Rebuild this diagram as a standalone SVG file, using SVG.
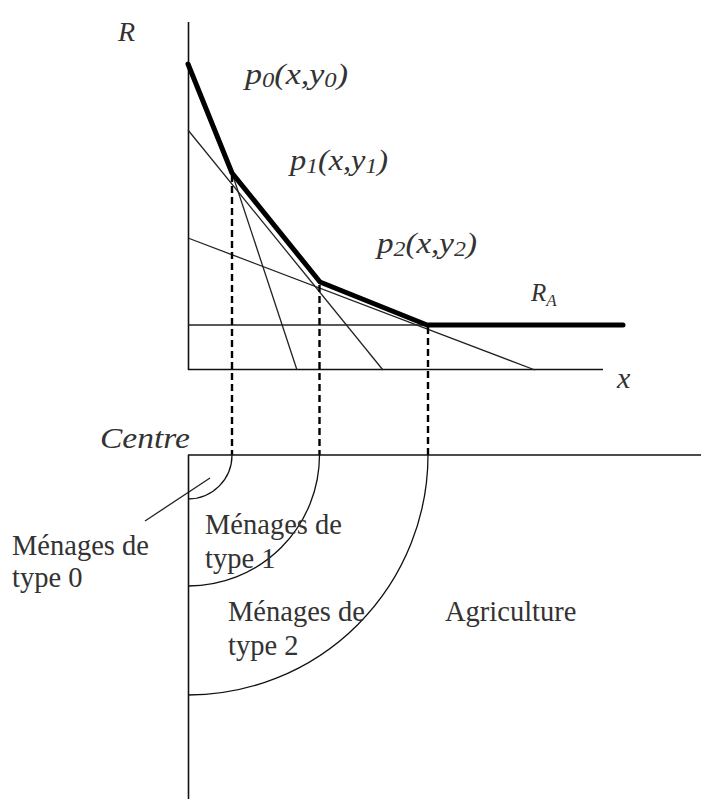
<svg xmlns="http://www.w3.org/2000/svg" width="701" height="799" viewBox="0 0 701 799">
<style>
.axis{stroke:#111;stroke-width:1.6;fill:none}
.thin{stroke:#222;stroke-width:1.3;fill:none}
.thick{stroke:#000;stroke-width:5;fill:none;stroke-linejoin:round;stroke-linecap:round}
.dash{stroke:#000;stroke-width:2.4;stroke-dasharray:7 4;fill:none}
.arc{stroke:#111;stroke-width:1.3;fill:none}
.it{font-family:"Liberation Serif",serif;font-style:italic;fill:#333}
.rm{font-family:"Liberation Serif",serif;fill:#333;font-size:28.5px}
.sub{font-size:21px}
</style>
<rect width="701" height="799" fill="#fff"/>
<g id="axes-top">
<line class="axis" x1="188.5" y1="22" x2="188.5" y2="370"/>
<line class="axis" x1="188" y1="369.5" x2="603" y2="369.5"/>
</g>
<g id="rent-lines">
<line class="thin" x1="232" y1="173" x2="297" y2="370"/>
<line class="thin" x1="188" y1="130" x2="383" y2="370"/>
<line class="thin" x1="188" y1="238" x2="535" y2="370"/>
<line class="thin" x1="188" y1="325" x2="428" y2="325"/>
<polyline class="thick" points="188,64 232,173 320,282 427,325 623,325"/>
</g>
<g id="connectors">
<line class="dash" x1="232" y1="175" x2="232" y2="455"/>
<line class="dash" x1="319.5" y1="285" x2="319.5" y2="455"/>
<line class="dash" x1="428" y1="327" x2="428" y2="455"/>
<line class="thin" x1="145" y1="521" x2="210" y2="478"/>
</g>
<g id="axes-bottom">
<line class="axis" x1="188" y1="455" x2="701" y2="455"/>
<line class="axis" x1="188.5" y1="455" x2="188.5" y2="799"/>
</g>
<g id="zones">
<path class="arc" d="M232,455 A44,44 0 0 1 188,499"/>
<path class="arc" d="M319.5,455 A131,131 0 0 1 188,586"/>
<path class="arc" d="M428,455 A240,240 0 0 1 188,695"/>
</g>
<g id="labels">
<text class="it" x="118" y="41" font-size="28">R</text>
<text class="it" x="245" y="84" font-size="29" textLength="103" lengthAdjust="spacingAndGlyphs">p<tspan class="sub" dy="3">0</tspan><tspan dy="-3">(x,y</tspan><tspan class="sub" dy="3">0</tspan><tspan dy="-3">)</tspan></text>
<text class="it" x="290" y="170" font-size="29" textLength="98" lengthAdjust="spacingAndGlyphs">p<tspan class="sub" dy="3">1</tspan><tspan dy="-3">(x,y</tspan><tspan class="sub" dy="3">1</tspan><tspan dy="-3">)</tspan></text>
<text class="it" x="377" y="253" font-size="29" textLength="100" lengthAdjust="spacingAndGlyphs">p<tspan class="sub" dy="3">2</tspan><tspan dy="-3">(x,y</tspan><tspan class="sub" dy="3">2</tspan><tspan dy="-3">)</tspan></text>
<text class="it" x="531" y="301" font-size="25">R<tspan font-size="17" dy="5">A</tspan></text>
<text class="it" x="617" y="388" font-size="30">x</text>
<text class="it" x="100" y="448" font-size="30" textLength="90" lengthAdjust="spacingAndGlyphs">Centre</text>
<text class="rm" x="12" y="555">Ménages de</text>
<text class="rm" x="12" y="587">type 0</text>
<text class="rm" x="205" y="534">Ménages de</text>
<text class="rm" x="205" y="568">type 1</text>
<text class="rm" x="228" y="621">Ménages de</text>
<text class="rm" x="228" y="655">type 2</text>
<text class="rm" x="445" y="621">Agriculture</text>
</g>
</svg>
